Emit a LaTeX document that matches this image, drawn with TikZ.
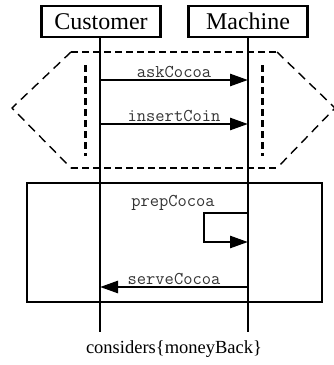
\documentclass[tikz,border=0pt]{standalone}
\usepackage{fontspec}
\setmainfont{Liberation Serif}
\usetikzlibrary{arrows.meta}
\tikzset{
  actor/.style={draw, line width=2.6pt, minimum width=119pt, minimum height=31pt,
    inner sep=0pt, font=\fontsize{24}{26}\selectfont},
  lifeline/.style={line width=2.6pt},
  msg/.style={line width=2.6pt, -{Triangle[length=18pt,width=12pt]}},
  msglabel/.style={font=\ttfamily\fontsize{18}{18}\selectfont, inner sep=1pt, text=black!80},
  regionedge/.style={line width=2.4pt, dash pattern=on 7pt off 4pt},
  regionside/.style={line width=1.4pt, dash pattern=on 9pt off 6pt},
  guard/.style={line width=3pt, dash pattern=on 7pt off 4pt},
  frame/.style={line width=1.2pt},
}
\begin{document}
\begin{tikzpicture}[x=1pt,y=-1pt]
\useasboundingbox (0,0) rectangle (333,365);

% participants
\node[actor] (cust) at (101,21.5) {Customer};
\node[actor] (mach) at (248,21.5) {Machine};

% lifeline ends
\coordinate (custEnd) at (100,332);
\coordinate (machEnd) at (248,332);
\draw[lifeline] (cust.south -| custEnd) -- (custEnd);
\draw[lifeline] (mach.south) -- (machEnd);

% dashed hexagonal region: heavy top and bottom, light slanted sides
\coordinate (hTL) at (71,52);  \coordinate (hTR) at (277,52);
\coordinate (hBL) at (71,168); \coordinate (hBR) at (277,168);
\coordinate (hL) at (12,108);  \coordinate (hR) at (335,108);
\draw[regionedge] (hTL) -- (hTR);
\draw[regionedge] (hBL) -- (hBR);
\draw[regionside] (hTR) -- (hR) -- (hBR);
\draw[regionside] (hTL) -- (hL) -- (hBL);

% thick dashed guards
\coordinate (gl1) at (85,65);  \coordinate (gl2) at (85,156);
\coordinate (gr1) at (262,65); \coordinate (gr2) at (262,156);
\draw[guard] (gl1) -- (gl2);
\draw[guard] (gr1) -- (gr2);

% plain frame
\draw[frame] (27,183) rectangle (322,302);

% messages
\coordinate (c1) at (100,80);  \coordinate (m1) at (248,80);
\coordinate (c2) at (100,124); \coordinate (m2) at (248,124);
\coordinate (m3) at (248,213); \coordinate (m3b) at (248,242);
\coordinate (c4) at (100,287); \coordinate (m4) at (248,287);

\draw[msg] (c1) -- node[msglabel, above] {askCocoa} (m1);
\draw[msg] (c2) -- node[msglabel, above] {insertCoin} (m2);
\draw[msg] (m3) -- (204,213) -- (204,242) -- (m3b);
\node[msglabel, anchor=south] (prep) at (173,212) {prepCocoa};
\draw[msg] (m4) -- node[msglabel, above] {serveCocoa} (c4);

% bottom note
\node[font=\fontsize{18.5}{20}\selectfont] (note) at (174,349) {considers\{moneyBack\}};
\end{tikzpicture}
\end{document}
